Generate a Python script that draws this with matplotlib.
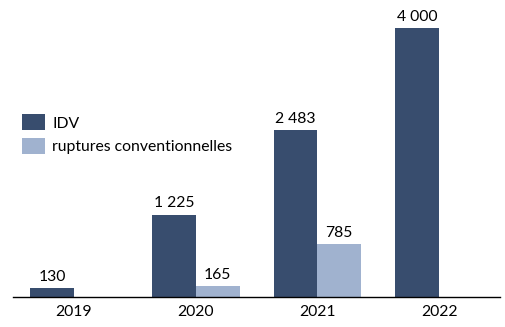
import matplotlib.pyplot as plt
import numpy as np

years = ["2019", "2020", "2021", "2022"]
idv = [130, 1225, 2483, 4000]
ruptures = [None, 165, 785, None]

dark = "#384d6e"
light = "#a0b2cf"

plt.rcParams["font.family"] = ["Lato", "DejaVu Sans"]
fs = 11.3

fig = plt.figure(figsize=(5.05, 3.27), dpi=100)
ax = fig.add_axes([0.026, 0.092, 0.964, 0.908])

x = np.arange(len(years))
w = 0.36


def fmt(v):
    return "{:,}".format(v).replace(",", " ")


for i, v in enumerate(idv):
    ax.bar(x[i] - w / 2, v, w, color=dark, label="IDV" if i == 0 else None)
    ax.annotate(fmt(v), (x[i] - w / 2, v), xytext=(0, 3), textcoords="offset points",
                ha="center", va="bottom", fontsize=fs)
first = True
for i, v in enumerate(ruptures):
    if v is None:
        continue
    ax.bar(x[i] + w / 2, v, w, color=light,
           label="ruptures conventionnelles" if first else None)
    first = False
    ax.annotate(fmt(v), (x[i] + w / 2, v), xytext=(0, 3), textcoords="offset points",
                ha="center", va="bottom", fontsize=fs)

ax.set_xlim(-0.5, 3.5)
ax.set_ylim(0, 4416)
ax.set_xticks(x)
ax.set_xticklabels(years, fontsize=fs)
ax.tick_params(axis="x", length=0, pad=6)
ax.set_yticks([])
for s in ["top", "right", "left"]:
    ax.spines[s].set_visible(False)
ax.spines["bottom"].set_color("black")
ax.spines["bottom"].set_linewidth(1)

ax.legend(loc="upper left", bbox_to_anchor=(0.032, 0.67), bbox_transform=fig.transFigure,
          frameon=False, fontsize=fs, handlelength=1.45, handleheight=1.2,
          handletextpad=0.45, labelspacing=0.45, borderaxespad=0)

fig.savefig("out.png", dpi=100)
